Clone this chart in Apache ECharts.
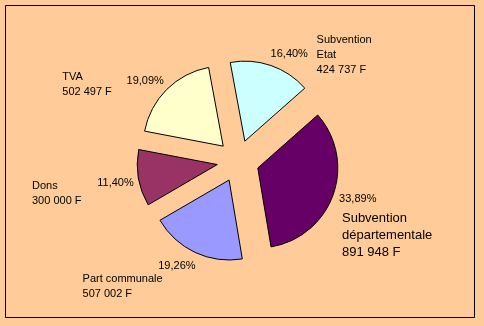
<!DOCTYPE html>
<html>
<head>
<meta charset="utf-8">
<script src="https://cdn.jsdelivr.net/npm/echarts@6/dist/echarts.min.js"></script>
<style>
  html, body { margin: 0; padding: 0; background: #FFCC99; }
  #chart { width: 484px; height: 326px; }
</style>
</head>
<body>
<div id="chart"></div>
<script>
// Répartition du financement (parts en %, montants en francs)
const categories = ['Subvention\nEtat', 'Subvention\ndépartementale', 'Part communale', 'Dons', 'TVA'];
const shares = [16.40, 33.89, 19.26, 11.40, 19.09];
const amounts = ['424 737 F', '891 948 F', '507 002 F', '300 000 F', '502 497 F'];
const colors = ['#CCFFFF', '#660066', '#9999FF', '#993366', '#FFFFCC'];

// Label fine placement (offsets from the library's outside-label anchor)
const pctNudge = [[-6.5, 6], [-12, -2], [8.5, -3.7], [14, 2], [10.5, 4.6]];
const nameNudge = [[33, 26.6], [-28, 28], [-96, -1], [-68, 9], [-77, 22.6]];

const fmtPct = v => v.toFixed(2).replace('.', ',') + '%';
const FONT = '"Liberation Sans", Arial, sans-serif';
const CENTER = [238, 161];
const RADIUS = 80;
const START = 100.5;

const sliceData = categories.map((c, i) => ({
  name: c,
  value: shares[i],
  selected: true,
  itemStyle: { color: colors[i] },
  select: { itemStyle: { color: colors[i], borderColor: '#000', borderWidth: 1 } }
}));

const ghostBase = {
  type: 'pie',
  center: CENTER,
  radius: RADIUS,
  startAngle: START,
  clockwise: true,
  silent: true,
  avoidLabelOverlap: false,
  selectedMode: false,
  emphasis: { disabled: true },
  itemStyle: { color: 'rgba(0,0,0,0)', borderWidth: 0 },
  labelLine: { show: false, length: 40, length2: 0 },
  z: 3
};

const chart = echarts.init(document.getElementById('chart'), null, { renderer: 'canvas' });
chart.setOption({
  backgroundColor: '#FFCC99',
  animation: false,
  graphic: [{
    type: 'rect',
    shape: { x: 5.5, y: 5.5, width: 469, height: 312 },
    style: { fill: 'none', stroke: '#000', lineWidth: 1 },
    silent: true
  }],
  series: [
    {
      type: 'pie',
      center: CENTER,
      radius: RADIUS,
      startAngle: START,
      clockwise: true,
      selectedMode: 'multiple',
      selectedOffset: 21,
      silent: true,
      emphasis: { disabled: true },
      itemStyle: { borderColor: '#000', borderWidth: 1 },
      label: { show: false },
      labelLine: { show: false },
      data: sliceData,
      z: 2
    },
    Object.assign({}, ghostBase, {
      label: {
        show: true, position: 'outside', distanceToLabelLine: 0,
        color: '#000', fontFamily: FONT, fontSize: 11,
        formatter: p => fmtPct(shares[p.dataIndex])
      },
      labelLayout: p => ({ dx: pctNudge[p.dataIndex][0], dy: pctNudge[p.dataIndex][1] }),
      data: categories.map((c, i) => ({ name: c, value: shares[i] }))
    }),
    Object.assign({}, ghostBase, {
      labelLine: { show: false, length: 60, length2: 0 },
      label: {
        show: true, position: 'outside', distanceToLabelLine: 0,
        color: '#000', fontFamily: FONT, fontSize: 11, lineHeight: 15,
        formatter: p => categories[p.dataIndex] + '\n' + amounts[p.dataIndex]
      },
      labelLayout: p => ({
        dx: nameNudge[p.dataIndex][0], dy: nameNudge[p.dataIndex][1], align: 'left'
      }),
      data: categories.map((c, i) => {
        const item = { name: c, value: shares[i] };
        if (i === 1) item.label = { fontSize: 13, lineHeight: 17 };
        return item;
      })
    })
  ]
});
</script>
</body>
</html>
